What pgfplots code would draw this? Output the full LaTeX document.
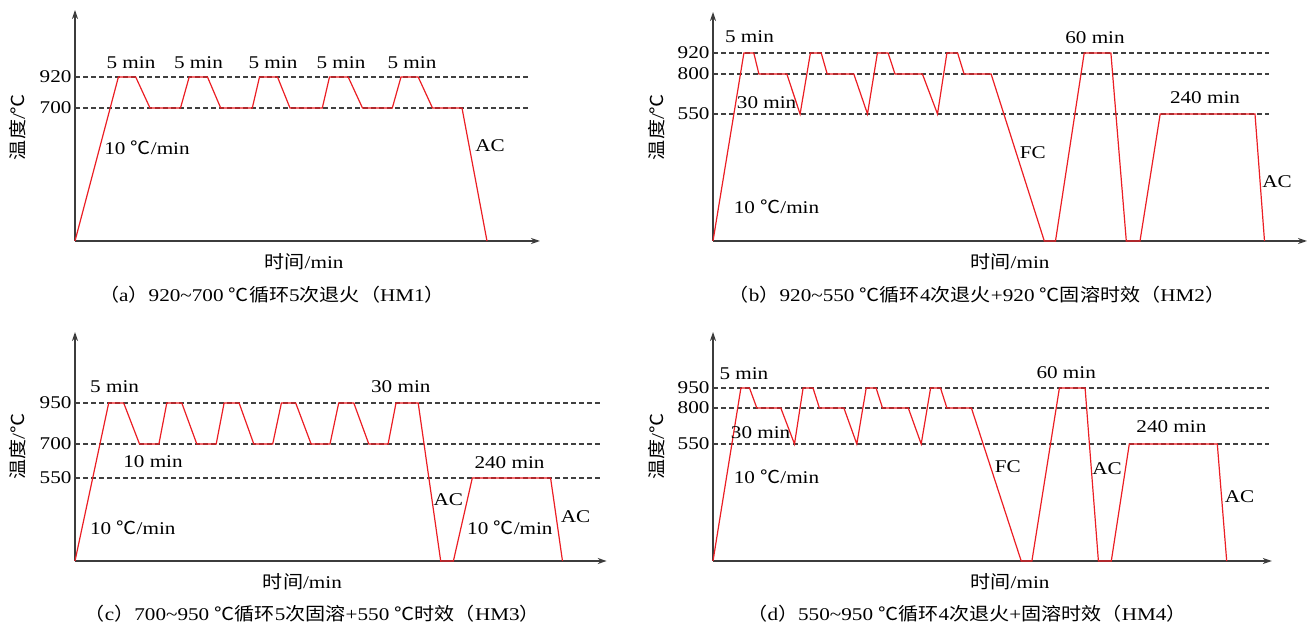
\documentclass[border=0pt]{standalone}
\usepackage{pgfplots}
\pgfplotsset{compat=1.18}
\usepackage{fontspec}
\setmainfont{Liberation Serif}[FakeStretch=1.18]
\newfontfamily\cjk{Noto Sans CJK SC}[FakeStretch=1.12]
\usetikzlibrary{arrows.meta}
\definecolor{lred}{RGB}{235,30,36}
\definecolor{axgray}{RGB}{60,60,60}
\newcommand\zh[1]{{\cjk #1}}
\newcommand\lab{\fontsize{18}{21}\selectfont}
\pgfplotsset{
 sketch/.style={
  x=1bp, y=1bp, xmin=0, ymin=0, enlargelimits=false,
  axis lines=left, clip=false,
  axis line style={axgray, line width=1.3bp, -{Stealth[length=9bp,width=6bp]}},
  xtick=\empty, major tick length=0pt,
  tick label style={font=\lab},
  yticklabel style={xshift=0bp},
  anchor=south west,
 },
 tcurve/.style={lred, line width=1.2bp, no markers},
 dline/.style={black!75, line width=1.2bp, dash pattern=on 4.5bp off 3.5bp, no markers},
}
\begin{document}
\begin{tikzpicture}
% (a)
\begin{axis}[sketch, at={(75bp,383bp)}, xmax=465, ymax=231, ytick={164,133}, yticklabels={\textrm{920},\textrm{700}}]
\addplot[dline] coordinates {(0,164) (456,164)};
\addplot[dline] coordinates {(0,133) (456,133)};
\addplot[tcurve] coordinates {(0,0) (43.4,164) (60.7,164) (75,133) (105.5,133) (114.2,164) (132.5,164) (145.7,133) (177.3,133) (184.5,164) (202.5,164) (215,133) (247.3,133) (254.5,164) (273.2,164) (287.5,133) (317.3,133) (326,164) (343.2,164) (357.5,133) (387,133) (412,0)};
\node[font=\lab] at (axis cs:56,178) {5 min};
\node[font=\lab] at (axis cs:123.5,178) {5 min};
\node[font=\lab] at (axis cs:198,178) {5 min};
\node[font=\lab] at (axis cs:266,178) {5 min};
\node[font=\lab] at (axis cs:337,178) {5 min};
\node[font=\lab] at (axis cs:72,93) {10 \zh{℃}/min};
\node[font=\lab] at (axis cs:415,95) {AC};
\node[font=\lab] at (axis cs:229,-21) {\zh{时间}/min};
\node[font=\lab] at (axis cs:197,-54) {\zh{（}a\zh{）}920\textasciitilde700 \zh{℃循环}5\zh{次退火（}HM1\zh{）}};
\node[font=\lab, rotate=90] at (axis cs:-57,114) {\zh{温度}/\zh{℃}};
\end{axis}
% (b)
\begin{axis}[sketch, at={(713bp,383bp)}, xmax=594, ymax=229, ytick={188,167,127}, yticklabels={\textrm{920},\textrm{800},\textrm{550}}]
\addplot[dline] coordinates {(0,188) (555.8,188)};
\addplot[dline] coordinates {(0,167) (555.8,167)};
\addplot[dline] coordinates {(0,127) (555.8,127)};
\addplot[tcurve] coordinates {(0,0) (30.9,188) (40.8,188) (45.9,167) (73.8,167) (87.1,127) (97.4,188) (108.2,188) (114.2,167) (140.8,167) (154.5,127) (164.4,188) (175.1,188) (182,167) (209.4,167) (224.5,127) (233.9,188) (244.6,188) (251.1,167) (278.1,167) (331.3,0) (342.5,0) (371.2,188) (397.9,188) (413.3,0) (427,0) (447.2,127) (542,127) (551.5,0)};
\node[font=\lab] at (axis cs:36.5,204) {5 min};
\node[font=\lab] at (axis cs:53.6,138) {30 min};
\node[font=\lab] at (axis cs:63.5,34) {10 \zh{℃}/min};
\node[font=\lab] at (axis cs:319.7,88) {FC};
\node[font=\lab] at (axis cs:382,203) {60 min};
\node[font=\lab] at (axis cs:492,143) {240 min};
\node[font=\lab] at (axis cs:564,59) {AC};
\node[font=\lab] at (axis cs:297,-21) {\zh{时间}/min};
\node[font=\lab] at (axis cs:264,-54) {\zh{（}b\zh{）}920\textasciitilde550 \zh{℃循环}4\zh{次退火}+920 \zh{℃固溶时效（}HM2\zh{）}};
\node[font=\lab, rotate=90] at (axis cs:-56,114) {\zh{温度}/\zh{℃}};
\end{axis}
% (c)
\begin{axis}[sketch, at={(75bp,63bp)}, xmax=531.7, ymax=229, ytick={158,117,83}, yticklabels={\textrm{950},\textrm{700},\textrm{550}}]
\addplot[dline] coordinates {(0,158) (527.8,158)};
\addplot[dline] coordinates {(0,117) (527.8,117)};
\addplot[dline] coordinates {(0,83) (527.8,83)};
\addplot[tcurve] coordinates {(0,0) (33.7,158) (48.7,158) (64.5,117) (83.9,117) (91.8,158) (106.8,158) (121.8,117) (141.2,117) (149.1,158) (164.1,158) (178.8,117) (197.7,117) (206.4,158) (220.7,158) (236.1,117) (255,117) (263.7,158) (278.8,158) (293.8,117) (313.1,117) (321,158) (343.2,158) (365.7,0) (378.4,0) (397.3,83) (475.6,83) (487.5,0)};
\node[font=\lab] at (axis cs:39.6,174.3) {5 min};
\node[font=\lab] at (axis cs:325.8,174.3) {30 min};
\node[font=\lab] at (axis cs:78,99.3) {10 min};
\node[font=\lab] at (axis cs:434.5,98.3) {240 min};
\node[font=\lab] at (axis cs:373.2,61) {AC};
\node[font=\lab] at (axis cs:57.8,33.7) {10 \zh{℃}/min};
\node[font=\lab] at (axis cs:434.9,33.7) {10 \zh{℃}/min};
\node[font=\lab] at (axis cs:500.5,44.3) {AC};
\node[font=\lab] at (axis cs:227.4,-20.7) {\zh{时间}/min};
\node[font=\lab] at (axis cs:237.3,-52.3) {\zh{（}c\zh{）}700\textasciitilde950 \zh{℃循环}5\zh{次固溶}+550 \zh{℃时效（}HM3\zh{）}};
\node[font=\lab, rotate=90] at (axis cs:-57.2,114.3) {\zh{温度}/\zh{℃}};
\end{axis}
% (d)
\begin{axis}[sketch, at={(713bp,63bp)}, xmax=558.8, ymax=229, ytick={173,153,117}, yticklabels={\textrm{950},\textrm{800},\textrm{550}}]
\addplot[dline] coordinates {(0,173) (555.8,173)};
\addplot[dline] coordinates {(0,153) (555.8,153)};
\addplot[dline] coordinates {(0,117) (555.8,117)};
\addplot[tcurve] coordinates {(0,0) (27.9,173) (36.5,173) (43.8,153) (67.8,153) (81.5,117) (90.1,173) (100,173) (106.4,153) (130.9,153) (143.8,117) (153.2,173) (163.1,173) (169.5,153) (195.3,153) (208.2,117) (217.6,173) (227.5,173) (233.9,153) (258.4,153) (308.2,0) (318.9,0) (346.4,173) (372.1,173) (385.4,0) (398.3,0) (416.3,117) (504.3,117) (513.7,0)};
\node[font=\lab] at (axis cs:30.9,187.7) {5 min};
\node[font=\lab] at (axis cs:353.2,188) {60 min};
\node[font=\lab] at (axis cs:47.6,128.3) {30 min};
\node[font=\lab] at (axis cs:458.4,134.3) {240 min};
\node[font=\lab] at (axis cs:63.5,84.3) {10 \zh{℃}/min};
\node[font=\lab] at (axis cs:294.8,94.3) {FC};
\node[font=\lab] at (axis cs:394,92.3) {AC};
\node[font=\lab] at (axis cs:526.6,64.3) {AC};
\node[font=\lab] at (axis cs:297,-20.7) {\zh{时间}/min};
\node[font=\lab] at (axis cs:254,-52.3) {\zh{（}d\zh{）}550\textasciitilde950 \zh{℃循环}4\zh{次退火}+\zh{固溶时效（}HM4\zh{）}};
\node[font=\lab, rotate=90] at (axis cs:-56,114.3) {\zh{温度}/\zh{℃}};
\end{axis}
\pgfresetboundingbox
\path (0,0) rectangle (1316bp,624bp);
\end{tikzpicture}
\end{document}
